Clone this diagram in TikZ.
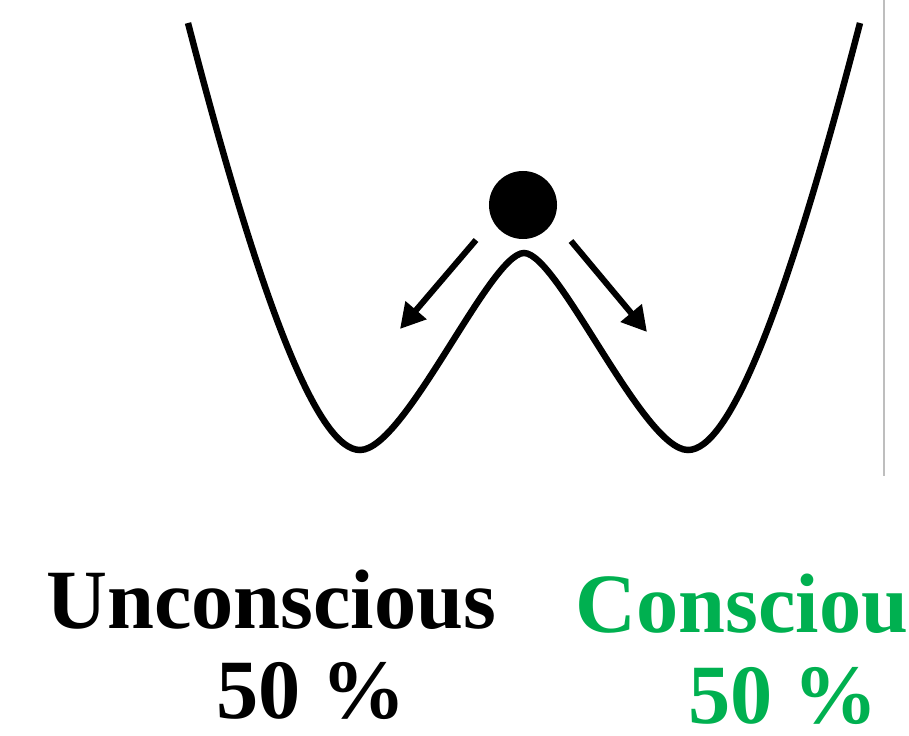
\documentclass[tikz,border=0pt]{standalone}
\usepackage{fontspec}
\setmainfont{Liberation Serif}
\usepackage{tikz}
\usetikzlibrary{arrows.meta}
\definecolor{wellgreen}{RGB}{0, 176, 80}
\definecolor{edgegray}{RGB}{190, 190, 190}

\begin{document}
\begin{tikzpicture}[
    x=0.025cm, y=-0.025cm,
    well/.style={line width=4.6pt, black},
    push/.style={-{Triangle[length=0.62cm, width=0.66cm]}, line width=4.3pt, black},
    ball/.style={circle, fill=black, minimum size=1.7cm, inner sep=0pt},
    state/.style={font=\fontsize{60}{72}\selectfont\bfseries, anchor=base west, inner sep=0pt}
]
\useasboundingbox (0,0) rectangle (909,736);

% Double-well landscape
\coordinate (lt) at (188,23);
\coordinate (lm) at (360,450);
\coordinate (pk) at (524,253);
\coordinate (rm) at (688,450);
\coordinate (rt) at (860,23);
\draw[well] (lt) .. controls (265,320) and (320,450) .. (lm)
    .. controls (405,450) and (490,253) .. (pk)
    .. controls (558,253) and (643,450) .. (rm)
    .. controls (728,450) and (783,320) .. (rt);

% Ball on the barrier
\node[ball] (ball) at (523,205) {};

% Two ways down
\coordinate (la) at (476,240);
\coordinate (lb) at (400,329);
\coordinate (ra) at (571,241);
\coordinate (rb) at (647,332);
\draw[push] (la) -- (lb);
\draw[push] (ra) -- (rb);

% Thin edge on the right
\coordinate (e1) at (884,0);
\coordinate (e2) at (884,476);
\draw[edgegray, line width=0.8pt] (e1) -- (e2);

% Outcomes
\node[state] (unc) at (46,628) {Unconscious};
\node[state] (uncp) at (216,718) {50 \%};
\node[state, wellgreen] (con) at (575,632) {Consciou};
\node[state, wellgreen] (conp) at (688,723) {50 \%};

\end{tikzpicture}
\end{document}
